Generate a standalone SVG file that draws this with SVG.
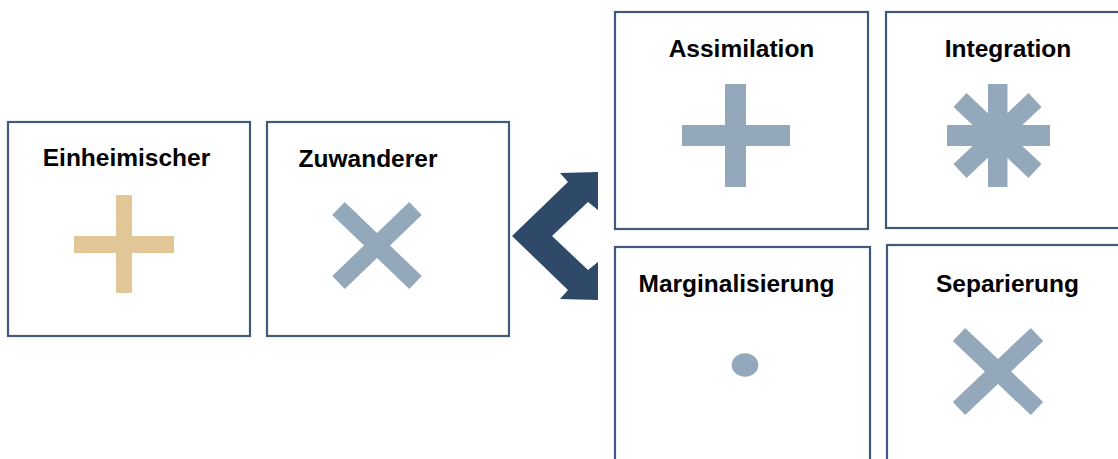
<svg xmlns="http://www.w3.org/2000/svg" width="1118" height="459" viewBox="0 0 1118 459">
<style>
.box{fill:#fff;stroke:#41597a;stroke-width:2.2}
.lbl{font-family:"Liberation Sans",Arial,sans-serif;font-weight:bold;font-size:24.5px;fill:#000;text-anchor:middle}
.sym{fill:#94a8bb}
.tan{fill:#e1c698}
.xs{stroke:#94a8bb;stroke-width:18;stroke-linecap:butt;fill:none}
.xa{stroke:#94a8bb;stroke-width:19;stroke-linecap:butt;fill:none}
.arrow{fill:#2e4a68}
</style>
<rect width="1118" height="459" fill="#fff"/>
<g id="einheimischer">
<rect class="box" x="8" y="122" width="242" height="214"/>
<text class="lbl" x="126.5" y="166">Einheimischer</text>
<rect class="tan" x="116" y="195" width="16" height="98"/>
<rect class="tan" x="74" y="236" width="100" height="17"/>
</g>
<g id="zuwanderer">
<rect class="box" x="267" y="122" width="242" height="214"/>
<text class="lbl" x="368" y="166.5">Zuwanderer</text>
<line class="xs" x1="338.5" y1="208.5" x2="415.5" y2="282.5"/>
<line class="xs" x1="415.5" y1="208.5" x2="338.5" y2="282.5"/>
</g>
<g id="connectors">
<polygon class="arrow" points="512,236 568,182 560,173 598,172 598,210 588,202 552,236 588,270 598,262 598,300 560,299 568,290"/>
</g>
<g id="assimilation">
<rect class="box" x="615" y="12" width="253" height="217"/>
<text class="lbl" x="741.5" y="56.5">Assimilation</text>
<rect class="sym" x="725" y="84" width="21" height="103"/>
<rect class="sym" x="682" y="125" width="108" height="21"/>
</g>
<g id="integration">
<rect class="box" x="886" y="12" width="260" height="216"/>
<text class="lbl" x="1008" y="56.5">Integration</text>
<line class="xa" x1="960" y1="100" x2="1035" y2="171"/>
<line class="xa" x1="1035" y1="100" x2="960" y2="171"/>
<rect class="sym" x="988" y="84" width="19.5" height="103"/>
<rect class="sym" x="947" y="125" width="103" height="21"/>
</g>
<g id="marginalisierung">
<rect class="box" x="615" y="247" width="255" height="230"/>
<text class="lbl" x="736.5" y="291.5">Marginalisierung</text>
<ellipse class="sym" cx="745" cy="365" rx="13.3" ry="11.8"/>
</g>
<g id="separierung">
<rect class="box" x="887" y="245" width="260" height="230"/>
<text class="lbl" x="1007.5" y="291.5">Separierung</text>
<line class="xs" x1="959" y1="334.5" x2="1037" y2="408.5"/>
<line class="xs" x1="1037" y1="334.5" x2="959" y2="408.5"/>
</g>
</svg>
